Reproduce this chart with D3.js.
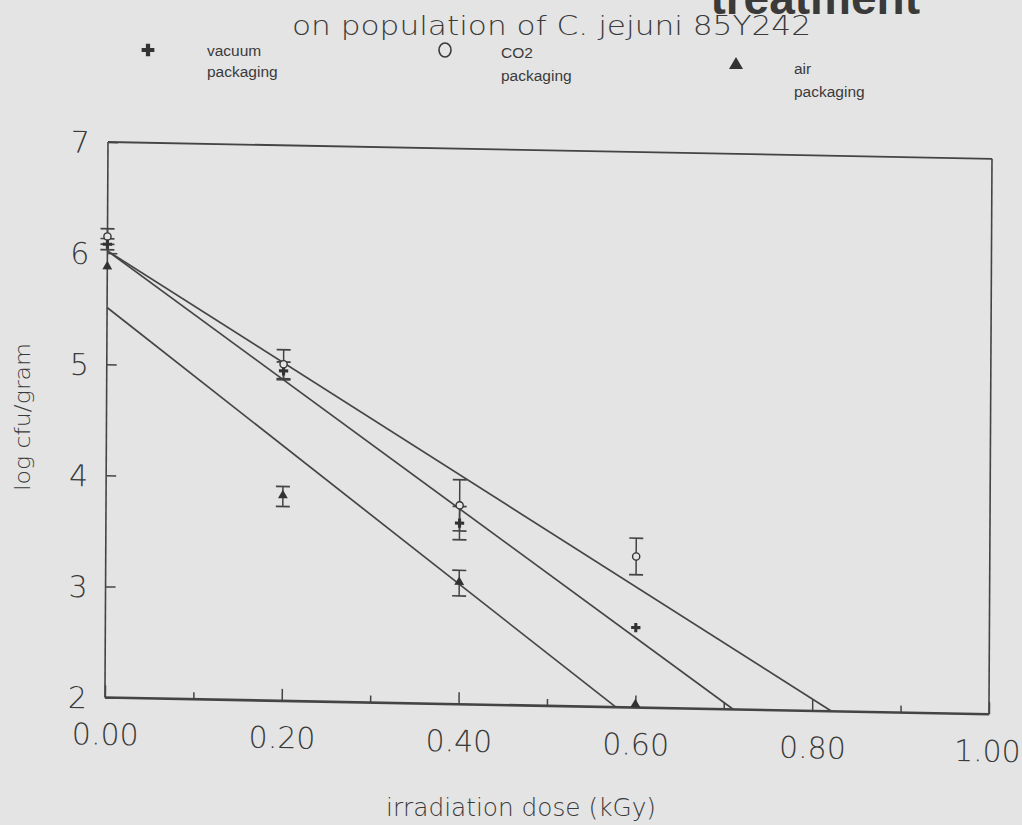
<!DOCTYPE html>
<html>
<head>
<meta charset="utf-8">
<script src="https://cdn.jsdelivr.net/npm/d3@7"></script>
<style>
  html, body { margin: 0; padding: 0; background: #e4e4e4; }
  svg { display: block; }
  text { fill: #3a3a3a; }
</style>
</head>
<body>
<svg id="chart" width="1022" height="825"></svg>
<script>
// ---------- data ----------
const doses = [0, 0.2, 0.4, 0.6];
const vacuumMean = [6.08, 4.97, 3.63, 2.72];
const vacuumErr  = [0.05, 0.08, 0.15, 0];
const co2Mean    = [6.15, 5.03, 3.79, 3.36];
const co2Err     = [0.07, 0.13, 0.23, 0.165];
const airMean    = [5.87, 3.84, 3.09, 2.02];
const airErr     = [0, 0.09, 0.115, 0];
// regression lines: [dose, log cfu] endpoints
const vacuumFit = [[0, 6.02], [0.711, 2]];
const co2Fit    = [[0, 6.02], [0.822, 2]];
const airFit    = [[0, 5.51], [0.578, 2]];
const xMajorTicks = [0, 0.2, 0.4, 0.6, 0.8, 1.0];
const xTickLabels = ["0.00", "0.20", "0.40", "0.60", "0.80", "1.00"];
const xMinorTicks = [0.1, 0.3, 0.5, 0.7, 0.9];
const yTicks = [2, 3, 4, 5, 6, 7];
const seriesNames = ["vacuum", "CO2", "air"];

// ---------- layout ----------
const svg = d3.select("#chart");
const W = 1022, H = 825;
svg.append("rect").attr("width", W).attr("height", H).attr("fill", "#e4e4e4");

const L = 108, R = 992, T = 142, B = 697.5;
const x = d3.scaleLinear().domain([0, 1]).range([L, R]);
const y = d3.scaleLinear().domain([2, 7]).range([B, T]);

const ink = "#444";
const font = "'DejaVu Sans', Lato, sans-serif";

// the scanned page is slightly skewed: mimic it with an affine transform
const k1 = 0.019, k2 = -0.0055;
const g = svg.append("g")
  .attr("transform", `matrix(1,${k1},${k2},1,${-k2 * T},${-k1 * L})`);

// frame
g.append("line").attr("x1", L).attr("x2", R).attr("y1", T).attr("y2", T)
  .attr("stroke", ink).attr("stroke-width", 1.8);
g.append("line").attr("x1", R).attr("x2", R).attr("y1", T).attr("y2", B)
  .attr("stroke", ink).attr("stroke-width", 1.6);
g.append("line").attr("x1", L).attr("x2", L).attr("y1", T).attr("y2", B)
  .attr("stroke", ink).attr("stroke-width", 1.6);
g.append("line").attr("x1", L).attr("x2", R).attr("y1", B).attr("y2", B)
  .attr("stroke", ink).attr("stroke-width", 2.6);

// axes
const xMinor = g.append("g").attr("transform", `translate(0,${B})`)
  .call(d3.axisBottom(x).tickValues(xMinorTicks).tickSize(-7).tickFormat(""));
const xMajor = g.append("g").attr("transform", `translate(0,${B})`)
  .call(d3.axisBottom(x).tickValues(xMajorTicks).tickSize(-12).tickPadding(26)
    .tickFormat((d, i) => xTickLabels[i]));
const yAxis = g.append("g").attr("transform", `translate(${L},0)`)
  .call(d3.axisLeft(y).tickValues(yTicks).tickSize(-10).tickPadding(18).tickFormat(d3.format("d")));

[xMinor, xMajor, yAxis].forEach(a => {
  a.select(".domain").remove();
  a.selectAll(".tick line").attr("stroke", ink).attr("stroke-width", 1.5);
  a.selectAll(".tick text").attr("font-family", font).attr("font-size", 30)
    .attr("font-weight", 200).attr("fill", "#3a3a3a");
});
yAxis.selectAll(".tick text").attr("dy", "0.36em");
// last label sits against the page edge: keep it inside
xMajor.selectAll(".tick text").filter(d => d === 1).attr("text-anchor", "end").attr("dx", "1.05em");

// regression lines
const line = d3.line().x(d => x(d[0])).y(d => y(d[1]));
[vacuumFit, co2Fit, airFit].forEach(f => {
  g.append("path").attr("d", line(f)).attr("fill", "none")
    .attr("stroke", "#454545").attr("stroke-width", 1.7);
});

// error bars
function errBars(means, errs) {
  doses.forEach((d, i) => {
    if (!errs[i]) return;
    const cx = x(d), y1 = y(means[i] + errs[i]), y2 = y(means[i] - errs[i]);
    g.append("line").attr("x1", cx).attr("x2", cx).attr("y1", y1).attr("y2", y2)
      .attr("stroke", ink).attr("stroke-width", 1.5);
    [y1, y2].forEach(yy => g.append("line").attr("x1", cx - 7).attr("x2", cx + 7)
      .attr("y1", yy).attr("y2", yy).attr("stroke", ink).attr("stroke-width", 1.7));
  });
}
errBars(co2Mean, co2Err);
errBars(vacuumMean, vacuumErr);
errBars(airMean, airErr);

// markers
const cross = d3.symbol().type(d3.symbolCross).size(48);
const tri = d3.symbol().type(d3.symbolTriangle).size(42);
doses.forEach((d, i) => {
  g.append("path").attr("d", cross()).attr("fill", "#333")
    .attr("transform", `translate(${x(d)},${y(vacuumMean[i])})`);
  g.append("circle").attr("cx", x(d)).attr("cy", y(co2Mean[i])).attr("r", 3.6)
    .attr("fill", "#e4e4e4").attr("stroke", "#333").attr("stroke-width", 1.4);
  g.append("path").attr("d", tri()).attr("fill", "#333")
    .attr("transform", `translate(${x(d)},${y(airMean[i]) - 1})`);
});

// ---------- titles ----------
svg.append("text").attr("x", 920).attr("y", 14).attr("text-anchor", "end")
  .attr("font-family", "'Liberation Sans', Arial, sans-serif").attr("font-weight", "bold")
  .attr("font-size", 46).attr("fill", "#333").text("treatment");

svg.append("text").attr("x", 292).attr("y", 35)
  .attr("font-family", font).attr("font-weight", 200).attr("font-size", 27)
  .attr("textLength", 519).attr("lengthAdjust", "spacingAndGlyphs")
  .text("on population of C. jejuni 85Y242");

// legend
const legFont = "'Liberation Sans', Arial, sans-serif";
svg.append("path").attr("d", d3.symbol().type(d3.symbolCross).size(90)())
  .attr("fill", "#333").attr("transform", "translate(148,50)");
svg.append("ellipse").attr("cx", 445).attr("cy", 50).attr("rx", 6).attr("ry", 7)
  .attr("fill", "none").attr("stroke", "#3a3a3a").attr("stroke-width", 1.6);
svg.append("path").attr("d", d3.symbol().type(d3.symbolTriangle).size(85)())
  .attr("fill", "#333").attr("transform", "translate(736,65)");

const legendItems = [
  { name: seriesNames[0], x: 207, y1: 56, y2: 77, l1: "vacuum" },
  { name: seriesNames[1], x: 501, y1: 58, y2: 81, l1: "CO2" },
  { name: seriesNames[2], x: 794, y1: 74, y2: 97, l1: "air" }
];
legendItems.forEach(it => {
  svg.append("text").attr("x", it.x).attr("y", it.y1).attr("font-family", legFont)
    .attr("font-size", 15.5).text(it.l1);
  svg.append("text").attr("x", it.x).attr("y", it.y2).attr("font-family", legFont)
    .attr("font-size", 15.5).text("packaging");
});

// axis titles
svg.append("text").attr("x", 521).attr("y", 816).attr("text-anchor", "middle")
  .attr("font-family", font).attr("font-weight", 200).attr("font-size", 24)
  .attr("textLength", 270).attr("lengthAdjust", "spacingAndGlyphs")
  .text("irradiation dose (kGy)");
svg.append("text").attr("transform", "translate(30,417) rotate(-90)")
  .attr("text-anchor", "middle").attr("font-family", font).attr("font-weight", 200)
  .attr("font-size", 22).attr("textLength", 148).attr("lengthAdjust", "spacingAndGlyphs")
  .text("log cfu/gram");
</script>
</body>
</html>
